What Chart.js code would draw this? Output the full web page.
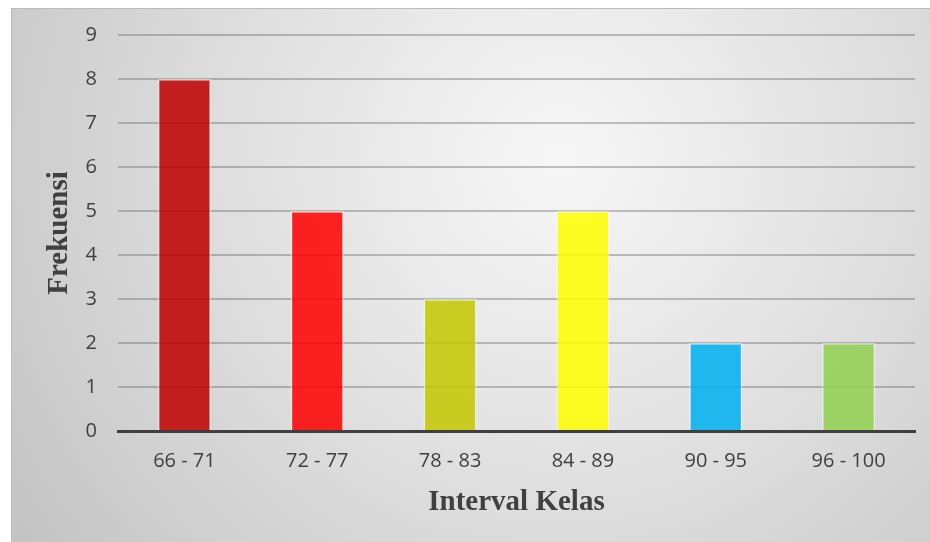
<!DOCTYPE html>
<html>
<head>
<meta charset="utf-8">
<script src="https://cdn.jsdelivr.net/npm/chart.js@4/dist/chart.umd.min.js"></script>
<style>
  html, body { margin: 0; padding: 0; background: #ffffff; }
  canvas { display: block; }
</style>
</head>
<body>
<canvas id="chart" width="930" height="542"></canvas>
<script>
// Frequency distribution of class intervals
const categories = ['66 - 71', '72 - 77', '78 - 83', '84 - 89', '90 - 95', '96 - 100'];
const frekuensi = [8, 5, 3, 5, 2, 2];
const yTicks = [0, 1, 2, 3, 4, 5, 6, 7, 8, 9];
const barColors = [
  'rgba(192, 0, 0, 0.86)',
  'rgba(255, 0, 0, 0.86)',
  'rgba(196, 200, 0, 0.86)',
  'rgba(255, 255, 0, 0.86)',
  'rgba(0, 176, 240, 0.86)',
  'rgba(146, 208, 80, 0.86)'
];

// Framed panel with a soft radial grey shading behind the plot
const panelBackground = {
  id: 'panelBackground',
  beforeDraw(chart) {
    const ctx = chart.ctx;
    const x0 = 11, y0 = 8, x1 = chart.width, y1 = chart.height;
    ctx.save();
    const g = ctx.createRadialGradient(560, 160, 0, 560, 160, 680);
    g.addColorStop(0, '#f7f7f7');
    g.addColorStop(0.45, '#e1e1e1');
    g.addColorStop(1, '#c2c2c2');
    ctx.fillStyle = g;
    ctx.fillRect(x0, y0, x1 - x0, y1 - y0);
    ctx.strokeStyle = '#bcbcbc';
    ctx.lineWidth = 1;
    ctx.strokeRect(x0 + 0.5, y0 + 0.5, x1 - x0, y1 - y0);
    ctx.restore();
  }
};

new Chart(document.getElementById('chart'), {
  type: 'bar',
  data: {
    labels: categories,
    datasets: [{
      label: 'Frekuensi',
      data: frekuensi,
      backgroundColor: barColors,
      borderColor: 'rgba(255, 255, 255, 0.45)',
      borderWidth: 1.5,
      categoryPercentage: 1,
      barPercentage: 0.4
    }]
  },
  options: {
    responsive: false,
    animation: false,
    devicePixelRatio: 1,
    layout: { padding: { left: 11, top: 35, right: 15, bottom: 0 } },
    plugins: {
      legend: { display: false },
      tooltip: { enabled: false }
    },
    scales: {
      x: {
        grid: { display: false, drawTicks: false },
        border: { display: true, color: '#404040', width: 3 },
        ticks: {
          color: '#404040',
          font: { family: '"Open Sans", sans-serif', size: 20 },
          padding: 18
        },
        title: {
          display: true,
          text: 'Interval Kelas',
          color: '#404040',
          font: { family: '"Liberation Serif", "Times New Roman", serif', size: 29, weight: 'bold' },
          padding: { top: 0, bottom: 22 }
        },
        afterFit(scale) { scale.height = 111; }
      },
      y: {
        min: 0,
        max: 9,
        afterBuildTicks(scale) { scale.ticks = yTicks.map(v => ({ value: v })); },
        grid: { color: 'rgba(90, 90, 90, 0.36)', lineWidth: 2, drawTicks: false },
        border: { display: false },
        ticks: {
          color: '#404040',
          font: { family: '"Open Sans", sans-serif', size: 20 },
          padding: 21
        },
        title: {
          display: true,
          text: 'Frekuensi',
          color: '#404040',
          font: { family: '"Liberation Serif", "Times New Roman", serif', size: 29, weight: 'bold' },
          padding: { top: 31, bottom: 0 }
        },
        afterFit(scale) { scale.width = 107; }
      }
    }
  },
  plugins: [panelBackground]
});
</script>
</body>
</html>
